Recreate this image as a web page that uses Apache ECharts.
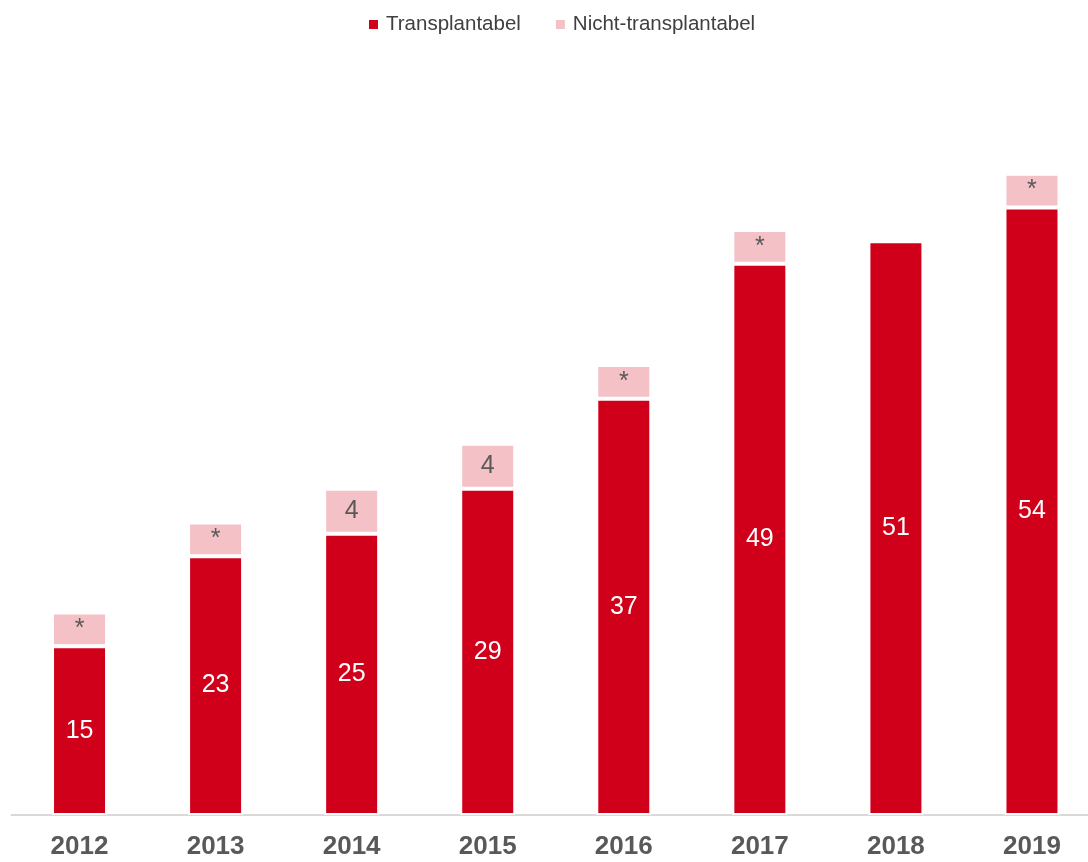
<!DOCTYPE html>
<html>
<head>
<meta charset="utf-8">
<script src="https://cdn.jsdelivr.net/npm/echarts@6/dist/echarts.min.js"></script>
<style>
html,body{margin:0;padding:0;background:#fff;overflow:hidden;width:1088px;height:862px;}
#chart{width:1100px;height:862px;}
</style>
</head>
<body>
<div id="chart"></div>
<script>
const years = ['2012','2013','2014','2015','2016','2017','2018','2019'];
const transplantabel = [15, 23, 25, 29, 37, 49, 51, 54];
const nichtTransplantabel = [3, 3, 4, 4, 3, 3, null, 3];
const nichtLabels = ['*', '*', '4', '4', '*', '*', '', '*'];
const seriesNames = ['Transplantabel', 'Nicht-transplantabel'];

const RED = '#d0001b';
const PINK = '#f3c1c6';
const FONT = 'Liberation Sans, Arial, sans-serif';

const chart = echarts.init(document.getElementById('chart'), null, {renderer: 'canvas'});
chart.setOption({
  animation: false,
  backgroundColor: '#ffffff',
  legend: {
    top: 9,
    left: 362,
    itemWidth: 11,
    itemHeight: 11,
    itemGap: 33,
    icon: 'rect',
    textStyle: {fontFamily: FONT, fontSize: 20.5, color: '#404040', padding: [0, 0, 0, 2]},
    data: seriesNames
  },
  grid: {left: 11.5, right: 0, top: 87, bottom: 47, containLabel: false},
  xAxis: {
    type: 'category',
    data: years,
    axisLine: {show: true, lineStyle: {color: '#d9d9d9', width: 2}},
    axisTick: {show: false},
    axisLabel: {margin: 19, fontFamily: FONT, fontSize: 26, fontWeight: 'bold', color: '#595959'}
  },
  yAxis: {
    type: 'value',
    min: 0,
    max: 64.7,
    show: false,
    splitLine: {show: false}
  },
  series: [
    {
      name: seriesNames[0],
      type: 'bar',
      stack: 'total',
      barWidth: 55,
      data: transplantabel,
      itemStyle: {color: RED, borderColor: '#ffffff', borderWidth: 2},
      label: {show: true, position: 'inside', color: '#ffffff', fontFamily: FONT, fontSize: 25}
    },
    {
      name: seriesNames[1],
      type: 'bar',
      stack: 'total',
      barWidth: 55,
      data: nichtTransplantabel,
      itemStyle: {color: PINK, borderColor: '#ffffff', borderWidth: 2},
      label: {
        show: true, position: 'inside', color: '#595959', fontFamily: FONT, fontSize: 25,
        formatter: p => nichtLabels[p.dataIndex]
      }
    }
  ]
});
</script>
</body>
</html>
